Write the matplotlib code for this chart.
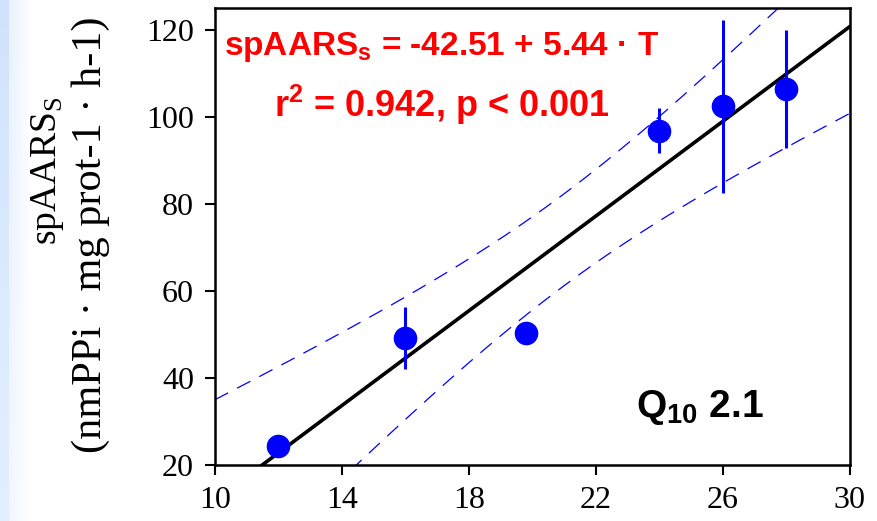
import matplotlib
matplotlib.use("Agg")
import matplotlib.pyplot as plt
import numpy as np

# Temperatura (°C) e atividade específica média
temp = [12, 16, 19.8, 24, 26, 28]
activity = [24.4, 49.2, 50.3, 96.8, 102.4, 106.4]
activity_err = [0, 7.2, 0, 5.2, 19.9, 13.6]

# Coeficientes da regressão linear
intercept = -42.51
slope = 5.44
t_crit = 2.776  # t(0.975, gl=4)

x_ticks = [10, 14, 18, 22, 26, 30]
y_ticks = [20, 40, 60, 80, 100, 120]

fig = plt.figure(figsize=(8.77, 5.21), dpi=100)

# Faixa azul clara na borda esquerda
bg = fig.add_axes([0, 0, 1, 1], zorder=-10)
w = 877
cols = np.arange(w)
ramp = np.where(cols < 9, 0, 0.5 + 0.5 * np.clip((cols - 9) / 22.0, 0, 1))
vert = np.linspace(0, 1, 100)[:, None]
top_c = np.array([0.82, 0.89, 0.99])
bot_c = np.array([0.89, 0.94, 1.00])
base = top_c * (1 - vert[..., None]) + bot_c * vert[..., None]
grad = base + (1 - base) * ramp[None, :, None]
bg.imshow(np.clip(grad, 0, 1), aspect="auto", extent=[0, 1, 0, 1])
bg.axis("off")

ax = fig.add_axes([0.245, 0.1075, 0.724, 0.8775])
ax.set_facecolor("white")

# Reta de regressão e banda de confiança de 95%
xx = np.linspace(10, 30, 200)
yy = intercept + slope * xx
x_arr = np.array(temp)
y_arr = np.array(activity)
n = len(x_arr)
resid = y_arr - (intercept + slope * x_arr)
s = np.sqrt(np.sum(resid ** 2) / (n - 2))
sxx = np.sum((x_arr - x_arr.mean()) ** 2)
half = t_crit * s * np.sqrt(1 / n + (xx - x_arr.mean()) ** 2 / sxx)

ax.plot(xx, yy, color="black", lw=2.6, zorder=3)
ax.plot(xx, yy + half, color="blue", lw=0.9, ls=(0, (12, 8)), zorder=2)
ax.plot(xx, yy - half, color="blue", lw=0.9, ls=(0, (12, 8)), zorder=2)

ax.errorbar(temp, activity, yerr=activity_err, fmt="o", color="blue",
            ms=16, elinewidth=2.2, capsize=0, zorder=4)

ax.set_xlim(10, 30)
ax.set_ylim(20, 125)
ax.set_xticks(x_ticks)
ax.set_yticks(y_ticks)
ax.tick_params(direction="out", length=7, width=1.5, labelsize=23,
               right=False, top=False, pad=8)
for lab in ax.get_xticklabels() + ax.get_yticklabels():
    lab.set_family("Liberation Serif")
for sp in ax.spines.values():
    sp.set_linewidth(1.8)

# Rótulo do eixo Y em duas linhas
fig.text(47 / 877, 1 - 171 / 521, "spAARS$_\\mathregular{S}$", rotation=90,
         ha="center", va="center", family="Liberation Serif", fontsize=27)
fig.text(91 / 877, 1 - 235 / 521, "(nmPPi · mg prot-1 · h-1)", rotation=90,
         ha="center", va="center", family="Liberation Serif", fontsize=30.5)

ax.text(0.357, 0.915, "spAARS$_\\mathregular{s}$ = -42.51 + 5.44 · T",
        transform=ax.transAxes, ha="center", va="center", color="red",
        fontsize=24, fontweight="bold", family="Liberation Sans")
ax.text(0.358, 0.788, "r$^\\mathregular{2}$ = 0.942, p < 0.001",
        transform=ax.transAxes, ha="center", va="center", color="red",
        fontsize=26, fontweight="bold", family="Liberation Sans")
ax.text(0.764, 0.125, "Q$_\\mathregular{10}$ 2.1",
        transform=ax.transAxes, ha="center", va="center", color="black",
        fontsize=28, fontweight="bold", family="Liberation Sans")

fig.savefig("out.png", dpi=100)
